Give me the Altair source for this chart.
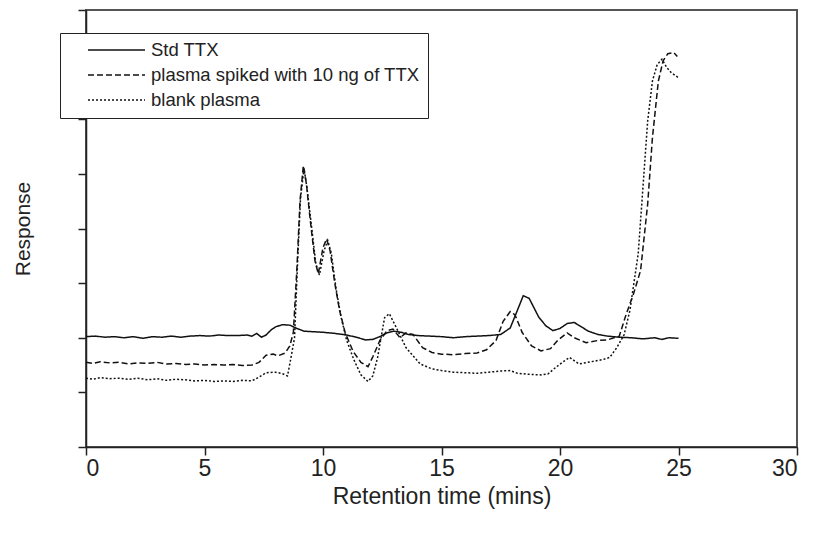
import altair as alt
import pandas as pd

series_names = ["Std TTX", "plasma spiked with 10 ng of TTX", "blank plasma"]

std_x = [0.0, 0.4, 0.8, 1.2, 1.6, 2.0, 2.4, 2.8, 3.2, 3.6, 4.0, 4.4, 4.8, 5.2, 5.6, 6.0, 6.4, 6.8, 7.0, 7.2,
         7.4, 7.6, 7.8, 8.0, 8.3, 8.6, 8.9, 9.2, 9.6, 10.0, 10.5, 11.0, 11.4, 11.8, 12.1, 12.4, 12.7, 13.0, 13.3, 13.6,
         14.0, 14.5, 15.0, 15.5, 16.0, 16.5, 17.0, 17.5, 17.9, 18.2, 18.45, 18.7, 18.9, 19.1, 19.4, 19.7, 20.0, 20.3, 20.6, 20.9,
         21.2, 21.6, 22.0, 22.5, 23.0, 23.5, 24.0, 24.3, 24.6, 25.0]
std_y = [0.02, 0.03, 0.01, 0.02, 0.0, 0.02, -0.01, 0.02, 0.01, 0.03, 0.01, 0.03, 0.04, 0.03, 0.05, 0.04, 0.04, 0.05, 0.03, 0.08,
         0.01, 0.05, 0.14, 0.2, 0.24, 0.23, 0.17, 0.12, 0.11, 0.1, 0.08, 0.05, 0.01, -0.04, -0.03, 0.02, 0.09, 0.12, 0.1, 0.06,
         0.04, 0.03, 0.02, 0.0, 0.02, 0.03, 0.04, 0.06, 0.18, 0.5, 0.77, 0.72, 0.55, 0.38, 0.22, 0.13, 0.17, 0.26, 0.28, 0.2,
         0.12, 0.06, 0.03, 0.01, 0.0, -0.02, 0.0, -0.03, 0.0, -0.01]

spk_x = [0.0, 0.3, 0.6, 1.0, 1.4, 1.8, 2.2, 2.6, 3.0, 3.4, 3.8, 4.2, 4.6, 5.0, 5.4, 5.8, 6.2, 6.6, 7.0, 7.3,
         7.6, 7.9, 8.1, 8.4, 8.6, 8.75, 8.9, 9.03, 9.17, 9.3, 9.45, 9.66, 9.8, 10.0, 10.15, 10.3, 10.5, 10.7, 10.93, 11.27,
         11.6, 11.9, 12.1, 12.4, 12.7, 12.95, 13.25, 13.5, 13.8, 14.2, 14.6, 15.0, 15.5, 16.0, 16.5, 16.9, 17.3, 17.6, 17.9, 18.1,
         18.4, 18.8, 19.2, 19.6, 19.9, 20.3, 20.6, 21.1, 21.6, 22.0, 22.5, 22.8, 23.1, 23.4, 23.7, 23.9, 24.15, 24.35, 24.55, 24.8,
         24.95]
spk_y = [-0.45, -0.47, -0.44, -0.46, -0.45, -0.48, -0.46, -0.47, -0.45, -0.48, -0.47, -0.49, -0.48, -0.5, -0.49, -0.5, -0.49, -0.51, -0.5, -0.45,
         -0.32, -0.3, -0.33, -0.28, -0.15, 0.1, 1.28, 2.5, 3.15, 2.82, 2.2, 1.41, 1.17, 1.65, 1.81, 1.59, 0.99, 0.5, 0.1, -0.25,
         -0.45, -0.53, -0.35, -0.05, 0.13, 0.16, 0.0, 0.09, 0.06, -0.18, -0.27, -0.3, -0.31, -0.29, -0.28, -0.22, -0.05, 0.3, 0.48, 0.42,
         0.1, -0.15, -0.24, -0.2, -0.05, 0.09, 0.0, -0.09, -0.05, -0.04, 0.03, 0.44, 0.8, 1.23, 2.45, 3.66, 4.7, 5.07, 5.2, 5.22,
         5.15]

blk_x = [0.0, 0.3, 0.6, 1.0, 1.4, 1.8, 2.2, 2.6, 3.0, 3.4, 3.8, 4.2, 4.6, 5.0, 5.4, 5.8, 6.2, 6.6, 7.0, 7.3,
         7.6, 8.0, 8.3, 8.5, 8.6, 8.8, 8.92, 9.05, 9.2, 9.32, 9.5, 9.7, 9.85, 10.05, 10.2, 10.35, 10.55, 10.75, 11.0, 11.3,
         11.6, 11.9, 12.1, 12.3, 12.6, 12.8, 13.1, 13.5, 14.1, 14.6, 15.0, 15.5, 16.0, 16.5, 17.0, 17.5, 17.9, 18.2, 18.7, 19.2,
         19.5, 19.8, 20.1, 20.4, 20.8, 21.3, 21.8, 22.1, 22.4, 22.7, 22.95, 23.3, 23.5, 23.7, 23.9, 24.1, 24.3, 24.5, 24.7, 25.0]
blk_y = [-0.74, -0.76, -0.73, -0.75, -0.74, -0.76, -0.74, -0.77, -0.75, -0.78, -0.76, -0.77, -0.79, -0.78, -0.8, -0.79, -0.8, -0.78, -0.79, -0.72,
         -0.64, -0.63, -0.66, -0.7, -0.48, 0.0, 1.3, 2.55, 3.1, 2.75, 2.1, 1.35, 1.15, 1.6, 1.78, 1.55, 0.9, 0.4, -0.05, -0.4,
         -0.68, -0.8, -0.7, -0.37, 0.37, 0.44, 0.18, -0.18, -0.48, -0.57, -0.6, -0.63, -0.64, -0.65, -0.63, -0.61, -0.6, -0.65, -0.67, -0.68,
         -0.66, -0.55, -0.45, -0.36, -0.48, -0.44, -0.4, -0.36, -0.18, 0.05, 0.5, 1.54, 2.75, 3.97, 4.7, 5.0, 5.1, 4.95, 4.85, 4.76]

x_ticks = [0, 5, 10, 15, 20, 25, 30]
y_ticks = [-2, -1, 0, 1, 2, 3, 4, 5, 6]

rows = []
for name, xs, ys in zip(series_names, [std_x, spk_x, blk_x], [std_y, spk_y, blk_y]):
    for i, (a, b) in enumerate(zip(xs, ys)):
        rows.append({"series": name, "t": a, "r": b, "i": i})
df = pd.DataFrame(rows)

chart = alt.Chart(df).mark_line(strokeWidth=1.5, color="#111").encode(
    x=alt.X("t:Q", scale=alt.Scale(domain=[0, 30], nice=False),
            axis=alt.Axis(values=x_ticks, title="Retention time (mins)", grid=False,
                          tickSize=8, labelPadding=2, titlePadding=5,
                          labelFontSize=23, titleFontSize=23, titleFontWeight="normal")),
    y=alt.Y("r:Q", scale=alt.Scale(domain=[-2, 6], nice=False, zero=False),
            axis=alt.Axis(values=y_ticks, labels=False, title="Response", grid=False,
                          tickSize=8, titlePadding=44, titleFontSize=21, titleFontWeight="normal")),
    strokeDash=alt.StrokeDash("series:N",
                              scale=alt.Scale(domain=series_names, range=[[1, 0], [6, 3], [2, 2]]),
                              legend=alt.Legend(title=None, orient="none", legendX=-26, legendY=23,
                                                symbolType="stroke", symbolSize=3250, symbolStrokeWidth=1.5,
                                                symbolStrokeColor="#111", symbolOffset=19, labelOffset=5,
                                                labelFontSize=18.5, labelLimit=500, rowPadding=6, clipHeight=18,
                                                padding=8, fillColor="white", strokeColor="#222")),
    order="i:Q",
).properties(
    width=711, height=437,
    autosize=alt.AutoSizeParams(type="none"),
    padding={"left": 78, "top": 2, "right": 12, "bottom": 80},
).configure_view(
    stroke="#555", strokeWidth=2
).configure_axis(
    domainColor="#222", tickColor="#222", domainWidth=1.5, tickWidth=1.5,
    labelColor="#222", titleColor="#222", labelFont="Liberation Sans", titleFont="Liberation Sans"
).configure_legend(
    labelFont="Liberation Sans", labelColor="#222"
)

chart.save("out.html", embed_options={"renderer": "svg", "actions": False})
